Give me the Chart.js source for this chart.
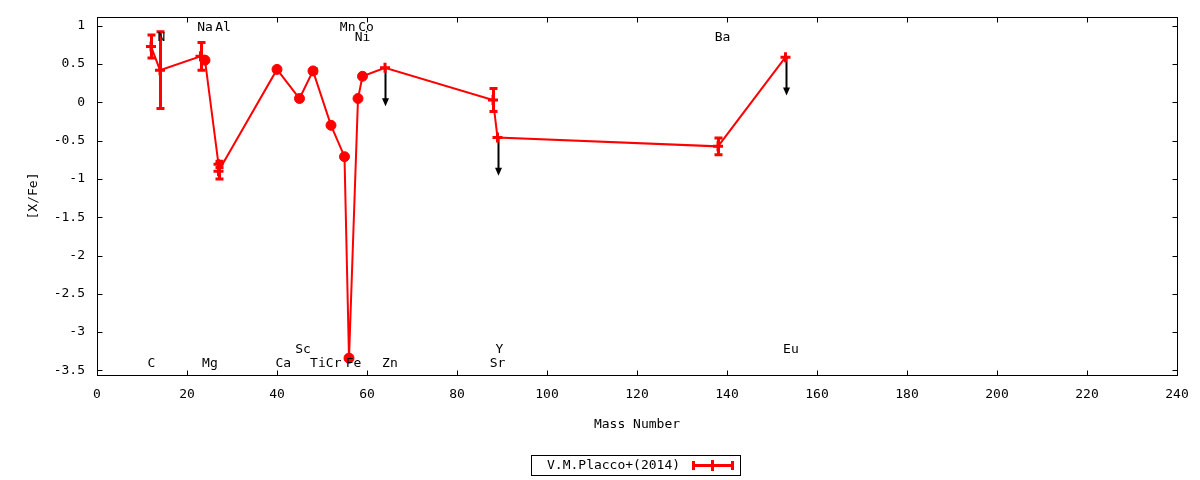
<!DOCTYPE html>
<html>
<head>
<meta charset="utf-8">
<script src="https://cdn.jsdelivr.net/npm/chart.js@4.4.1/dist/chart.umd.min.js"></script>
<style>
  html, body { margin: 0; padding: 0; background: #ffffff; }
  #wrap { width: 1200px; height: 480px; }
</style>
</head>
<body>
<div id="wrap"><canvas id="c" width="1200" height="480"></canvas></div>
<script>
// ---- data ----
const elements   = ['C', 'N', 'Na', 'Mg', 'Al', 'Al', 'Ca', 'Sc', 'Ti', 'Cr', 'Mn', 'Fe', 'Ni', 'Co', 'Zn', 'Sr', 'Y', 'Ba', 'Eu'];
const massNumber = [12, 14, 23, 24, 27, 27, 40, 45, 48, 52, 55, 56, 58, 59, 64, 88, 89, 138, 153];
const abundance  = [0.73, 0.42, 0.60, 0.55, -0.81, -0.90, 0.43, 0.05, 0.41, -0.30, -0.71, -3.34, 0.05, 0.34, 0.45, 0.03, -0.46, -0.575, 0.59];
const errors     = [0.15, 0.50, 0.18, 0, 0.04, 0.10, 0, 0, 0.03, 0, 0, 0, 0, 0, 0, 0.15, 0, 0.11, 0];
const upperLimit = [false, false, false, false, false, false, false, false, false, false, false, false, false, false, true, false, true, false, true];
const markerKind = ['cross', 'cross', 'cross', 'circle', 'cross', 'cross', 'circle', 'circle', 'circle', 'circle', 'circle', 'circle', 'circle', 'circle', 'cross', 'cross', 'cross', 'cross', 'cross'];
const limitArrowLength = 0.5;

// element name annotations (position in data coordinates)
const labelText = ['Na', 'Al', 'Mn', 'Co', 'N', 'Ni', 'Ba', 'Sc', 'Y', 'Eu', 'C', 'Mg', 'Ca', 'Ti', 'Cr', 'Fe', 'Zn', 'Sr'];
const labelMass = [24.0, 28.0, 55.7, 59.8, 14.3, 59.0, 139.0, 45.8, 89.4, 154.2, 12.1, 25.1, 41.4, 49.1, 52.6, 57.0, 65.1, 89.0];
const labelY    = [0.98, 0.98, 0.98, 0.98, 0.85, 0.85, 0.85, -3.23, -3.23, -3.23, -3.41, -3.41, -3.41, -3.41, -3.41, -3.41, -3.41, -3.41];

const xTicks = [0, 20, 40, 60, 80, 100, 120, 140, 160, 180, 200, 220, 240];
const yTicks = [1, 0.5, 0, -0.5, -1, -1.5, -2, -2.5, -3, -3.5];
const xRange = [0, 240];
const yRange = [-3.56, 1.114];
const seriesName = 'V.M.Placco+(2014)';
const xTitle = 'Mass Number';
const yTitle = '[X/Fe]';

const FONT = "'DejaVu Sans Mono', 'Liberation Mono', monospace";
const RED = '#ff0000';

const points = massNumber.map((m, i) => ({ x: m, y: abundance[i] }));

const framePlugin = {
  id: 'frame',
  beforeDatasetsDraw(chart) {
    const { ctx, scales: { x, y } } = chart;
    ctx.save();
    // error bars
    ctx.strokeStyle = RED;
    ctx.lineWidth = 3;
    ctx.lineCap = 'butt';
    for (let i = 0; i < massNumber.length; i++) {
      if (!errors[i]) continue;
      const px = Math.round(x.getPixelForValue(massNumber[i])) + 0.5;
      const y1 = y.getPixelForValue(abundance[i] + errors[i]);
      const y2 = y.getPixelForValue(abundance[i] - errors[i]);
      ctx.beginPath();
      ctx.moveTo(px, y1); ctx.lineTo(px, y2);
      ctx.moveTo(px - 4, y1); ctx.lineTo(px + 4, y1);
      ctx.moveTo(px - 4, y2); ctx.lineTo(px + 4, y2);
      ctx.stroke();
    }
    // upper-limit arrows
    ctx.strokeStyle = '#000';
    ctx.fillStyle = '#000';
    ctx.lineWidth = 2;
    for (let i = 0; i < massNumber.length; i++) {
      if (!upperLimit[i]) continue;
      const px = Math.round(x.getPixelForValue(massNumber[i])) + 0.5;
      const y1 = y.getPixelForValue(abundance[i]);
      const y2 = y.getPixelForValue(abundance[i] - limitArrowLength);
      ctx.beginPath();
      ctx.moveTo(px, y1); ctx.lineTo(px, y2 - 6);
      ctx.stroke();
      ctx.beginPath();
      ctx.moveTo(px - 3.5, y2 - 8);
      ctx.lineTo(px + 3.5, y2 - 8);
      ctx.lineTo(px, y2);
      ctx.closePath();
      ctx.fill();
    }
    ctx.restore();
  },
  afterDraw(chart) {
    const { ctx, chartArea: a, scales: { x, y } } = chart;
    ctx.save();
    // frame
    ctx.strokeStyle = '#000';
    ctx.lineWidth = 1;
    const L = Math.round(a.left) + 0.5, R = Math.round(a.right) + 0.5;
    const T = Math.round(a.top) + 0.5, B = Math.round(a.bottom) + 0.5;
    ctx.strokeRect(L, T, R - L, B - T);
    // inward ticks (with mirrors)
    ctx.beginPath();
    x.ticks.forEach(t => {
      const px = Math.round(x.getPixelForValue(t.value)) + 0.5;
      ctx.moveTo(px, B); ctx.lineTo(px, B - 5);
      ctx.moveTo(px, T); ctx.lineTo(px, T + 5);
    });
    y.ticks.forEach(t => {
      const py = Math.round(y.getPixelForValue(t.value)) + 0.5;
      ctx.moveTo(L, py); ctx.lineTo(L + 5, py);
      ctx.moveTo(R, py); ctx.lineTo(R - 5, py);
    });
    ctx.stroke();
    // element annotations
    ctx.fillStyle = '#000';
    ctx.font = '13px ' + FONT;
    ctx.textAlign = 'center';
    ctx.textBaseline = 'middle';
    labelText.forEach((s, i) => {
      ctx.fillText(s, x.getPixelForValue(labelMass[i]), y.getPixelForValue(labelY[i]));
    });
    // key box
    ctx.strokeStyle = '#000';
    ctx.lineWidth = 1;
    ctx.strokeRect(531.5, 455.5, 209, 20);
    ctx.textAlign = 'left';
    ctx.fillText(seriesName, 547, 466);
    ctx.strokeStyle = RED;
    ctx.lineWidth = 3;
    ctx.beginPath();
    ctx.moveTo(692, 465.5); ctx.lineTo(734, 465.5);
    ctx.moveTo(693.5, 461); ctx.lineTo(693.5, 470);
    ctx.moveTo(732.5, 461); ctx.lineTo(732.5, 470);
    ctx.moveTo(712.5, 460); ctx.lineTo(712.5, 471);
    ctx.stroke();
    ctx.restore();
  }
};

new Chart(document.getElementById('c'), {
  type: 'line',
  data: {
    datasets: [{
      label: seriesName,
      data: points,
      borderColor: RED,
      borderWidth: 2,
      tension: 0,
      fill: false,
      pointStyle: markerKind,
      pointRadius: 5,
      pointBorderWidth: markerKind.map(k => k === 'circle' ? 1 : 3),
      pointBackgroundColor: RED,
      pointBorderColor: RED,
      pointHoverRadius: 5
    }]
  },
  options: {
    responsive: false,
    animation: false,
    devicePixelRatio: 1,
    layout: { padding: { top: 17, right: 23, left: 0, bottom: 0 } },
    plugins: { legend: { display: false }, tooltip: { enabled: false } },
    scales: {
      x: {
        type: 'linear',
        min: xRange[0], max: xRange[1],
        grid: { display: false, drawTicks: false },
        border: { display: false },
        afterBuildTicks: s => { s.ticks = xTicks.map(v => ({ value: v })); },
        afterFit: s => { s.height = 105; s.paddingLeft = 0; s.paddingRight = 0; },
        ticks: { color: '#000', font: { family: FONT, size: 13 }, padding: 12, maxRotation: 0, autoSkip: false, callback: v => String(v) },
        title: { display: true, text: xTitle, color: '#000', font: { family: FONT, size: 13 }, padding: { top: 0, bottom: 48 } }
      },
      y: {
        type: 'linear',
        min: yRange[0], max: yRange[1],
        grid: { display: false, drawTicks: false },
        border: { display: false },
        afterBuildTicks: s => { s.ticks = yTicks.map(v => ({ value: v })); },
        afterFit: s => { s.width = 97; s.paddingTop = 0; s.paddingBottom = 0; },
        ticks: { color: '#000', font: { family: FONT, size: 13 }, padding: 12, autoSkip: false, callback: v => String(v) },
        title: { display: true, text: yTitle, color: '#000', font: { family: FONT, size: 13 }, padding: { top: 26, bottom: 0 } }
      }
    }
  },
  plugins: [framePlugin]
});
</script>
</body>
</html>
